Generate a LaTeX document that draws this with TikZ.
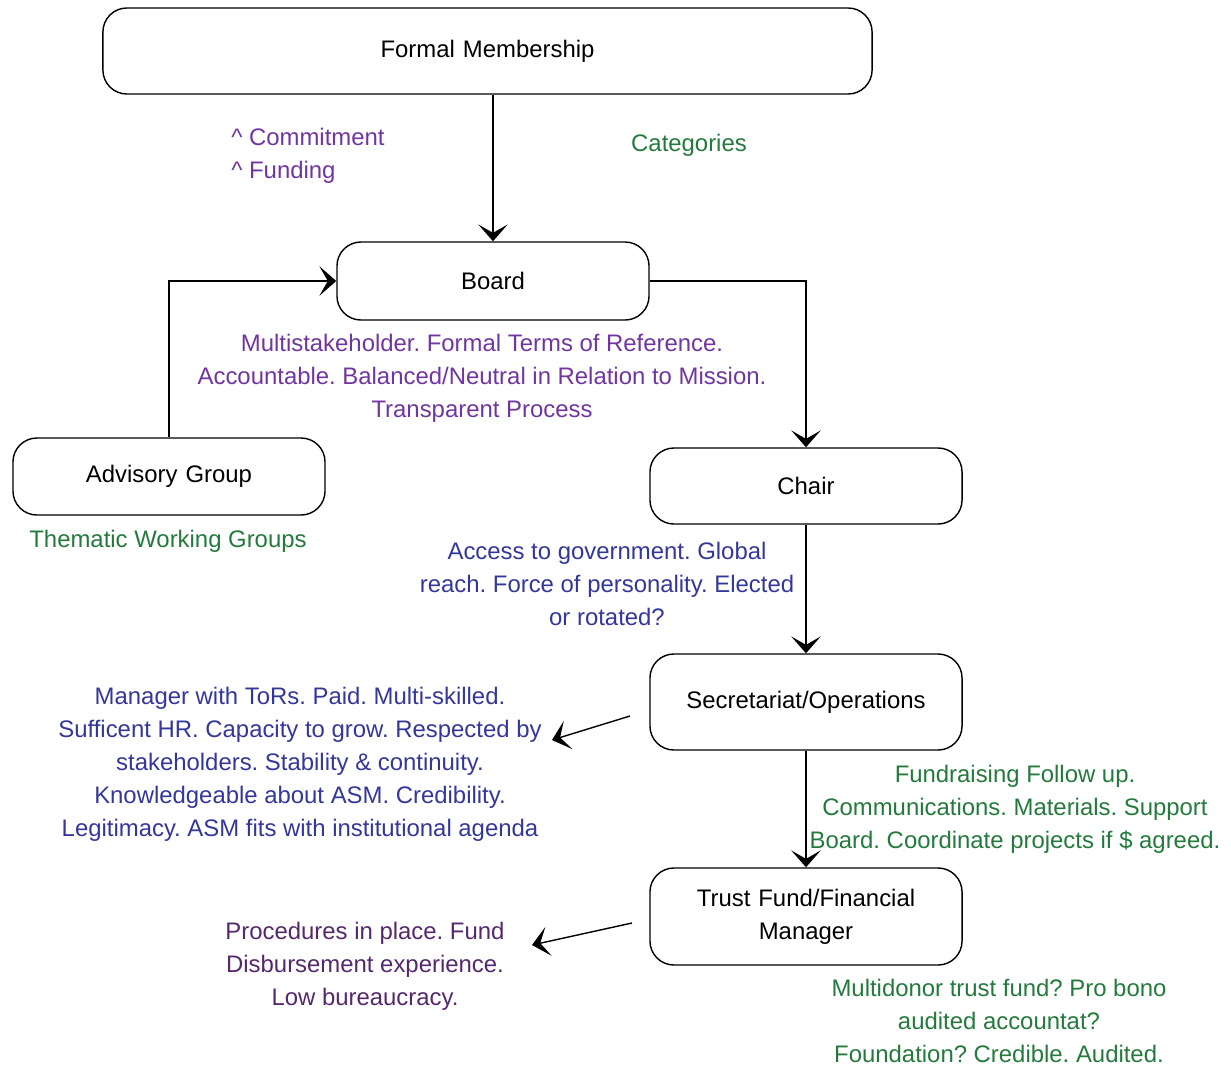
\documentclass[tikz,border=0pt]{standalone}
\usepackage{fontspec}
\setmainfont{Liberation Sans}
\usetikzlibrary{arrows.meta}
\definecolor{notepurple}{HTML}{7035A0}
\definecolor{notegreen}{HTML}{237A3C}
\definecolor{noteblue}{HTML}{34379A}
\definecolor{notedark}{HTML}{55286E}
\tikzset{
	unitbox/.style={draw, line width=1pt, rounded corners=0.6cm, inner sep=0pt, align=center, text width=7cm},
	note/.style={align=center, inner sep=0pt},
	link/.style={line width=1pt, -{Stealth[length=12pt, width=21pt, inset=6pt]}}
}

\begin{document}
\frenchspacing
\begin{tikzpicture}[x=0.025cm, y=-0.025cm, font=\fontsize{17}{23.5}\selectfont]
			%%%%% START %%%%%
			
			\useasboundingbox (0, 0) rectangle (1231, 1067);
			
			\node[unitbox, minimum width=19.225cm, minimum height=2.15cm, text width=18cm] (member) at (487.5, 51) {Formal Membership};
			\node[unitbox, minimum width=7.8cm, minimum height=1.95cm] (board) at (493, 281) {Board};
			\node[unitbox, minimum width=7.8cm, minimum height=1.925cm] (advisory) at (169, 476.5) {Advisory Group};
			\node[unitbox, minimum width=7.8cm, minimum height=1.9cm] (chair) at (806, 486) {Chair};
			\node[unitbox, minimum width=7.8cm, minimum height=2.4cm] (secretariat) at (806, 702) {Secretariat/Operations};
			\node[unitbox, minimum width=7.8cm, minimum height=2.425cm] (trust) at (806, 916.5) {Trust Fund/Financial\\Manager};
			
			\node[note, align=left, anchor=west, color=notepurple] (commit) at (231, 156) {\textasciicircum{} Commitment\\\textasciicircum{} Funding};
			\node[note, color=notegreen] (categories) at (689, 145) {Categories};
			\node[note, color=notepurple] (boardnote) at (482, 378.5) {Multistakeholder. Formal Terms of Reference.\\Accountable. Balanced/Neutral in Relation to Mission.\\Transparent Process};
			\node[note, color=notegreen] (thematic) at (168, 541) {Thematic Working Groups};
			\node[note, color=noteblue] (chairnote) at (607, 584) {Access to government. Global\\reach. Force of personality. Elected\\or rotated?};
			\node[note, color=noteblue] (managernote) at (300, 764) {Manager with ToRs. Paid. Multi-skilled.\\Sufficent HR. Capacity to grow. Respected by\\stakeholders. Stability \& continuity.\\Knowledgeable about ASM. Credibility.\\Legitimacy. ASM fits with institutional agenda};
			\node[note, color=notegreen] (fundnote) at (1015, 809) {Fundraising Follow up.\\Communications. Materials. Support\\Board. Coordinate projects if \$ agreed.};
			\node[note, color=notedark] (procnote) at (365, 966) {Procedures in place. Fund\\Disbursement experience.\\Low bureaucracy.};
			\node[note, color=notegreen] (donornote) at (999, 1021) {Multidonor trust fund? Pro bono\\audited accountat?\\Foundation? Credible. Audited.};
			
			\coordinate (secfrom) at (630, 716);
			\coordinate (secto) at (552, 740);
			\coordinate (trustfrom) at (632, 923);
			\coordinate (trustto) at (532, 945);
			
			\draw[link] (member.south -| board.north) -- (board.north);
			\draw[link] (advisory.north) |- (board.west);
			\draw[link] (board.east) -| (chair.north);
			\draw[link] (chair.south) -- (secretariat.north);
			\draw[link] (secretariat.south) -- (trust.north);
			\draw[link] (secfrom) -- (secto);
			\draw[link] (trustfrom) -- (trustto);
			
			%%%%% END %%%%%
\end{tikzpicture}
\end{document}
